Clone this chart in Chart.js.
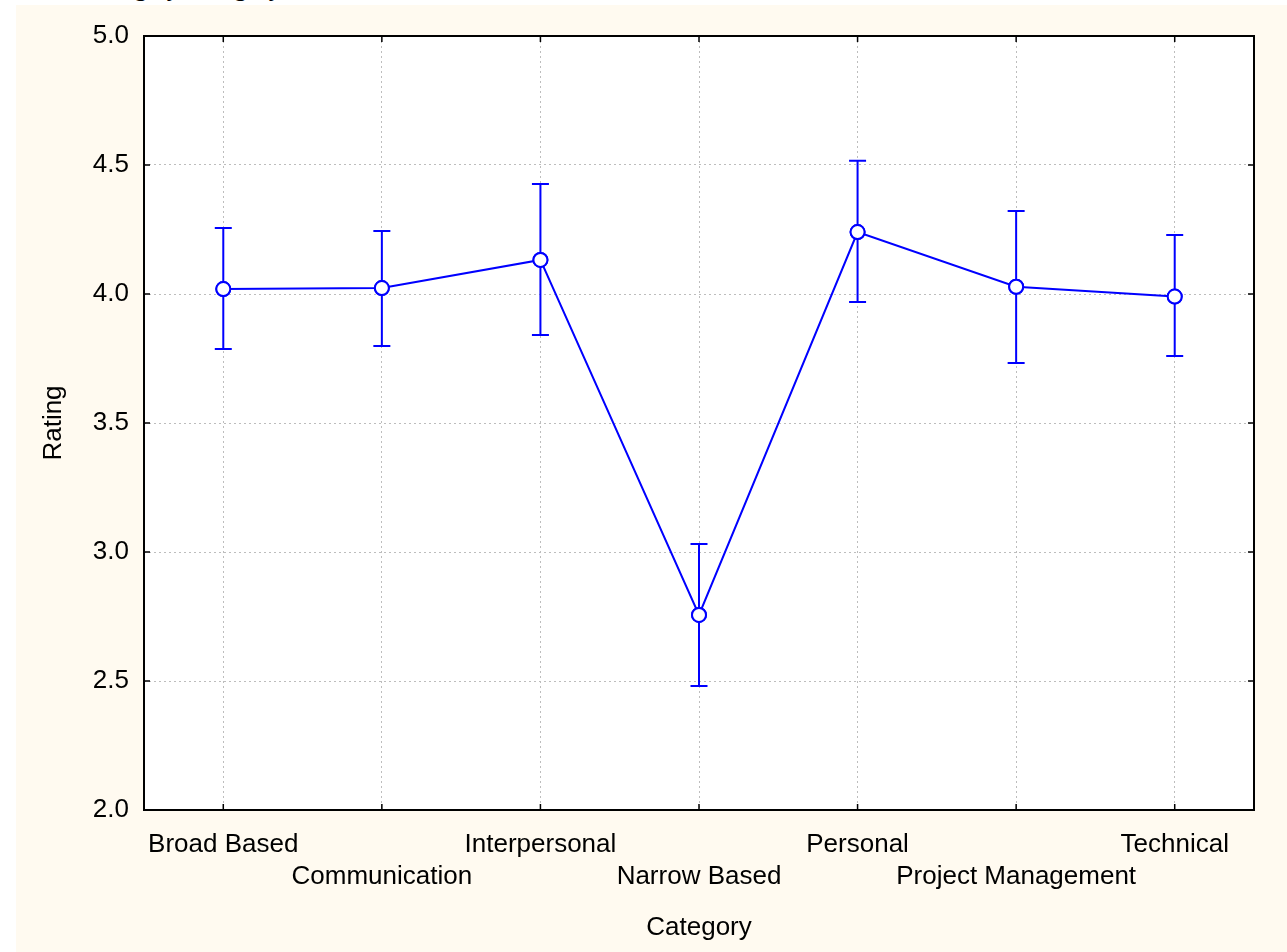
<!DOCTYPE html>
<html>
<head>
<meta charset="utf-8">
<script src="https://cdn.jsdelivr.net/npm/chart.js@4/dist/chart.umd.min.js"></script>
<style>
    body { margin: 0; background: #ffffff; width: 1287px; height: 952px; overflow: hidden; position: relative; }
    #title { position: absolute; left: 78px; top: -27px; font-family: "Liberation Serif", "DejaVu Serif", serif; font-size: 26px; color: #000; white-space: nowrap; }
    #panel { position: absolute; left: 16px; top: 5px; width: 1271px; height: 947px; background: #fffaf0; }
</style>
</head>
<body>
<div id="title">Rating by Category</div>
<div id="panel"><canvas id="chart" width="1271" height="947"></canvas></div>
<script>
// --- Data ---
const categories = ['Broad Based', 'Communication', 'Interpersonal', 'Narrow Based', 'Personal', 'Project Management', 'Technical'];
const ratingMean = [4.019, 4.023, 4.132, 2.756, 4.240, 4.028, 3.990];
const ratingUpper = [4.256, 4.244, 4.426, 3.031, 4.516, 4.322, 4.229];
const ratingLower = [3.787, 3.798, 3.841, 2.481, 3.969, 3.733, 3.760];
const yTicks = [2.0, 2.5, 3.0, 3.5, 4.0, 4.5, 5.0];

const blue = '#0000ff';
const fontFamily = '"Liberation Sans", Arial, Helvetica, sans-serif';

// white plot background
const plotBackground = {
    id: 'plotBackground',
    beforeDraw(chart) {
        const { ctx, chartArea: a } = chart;
        ctx.save();
        ctx.fillStyle = '#ffffff';
        ctx.fillRect(a.left, a.top, a.right - a.left, a.bottom - a.top);
        ctx.restore();
    }
};

// error bars with caps, drawn through the y scale
const errorBars = {
    id: 'errorBars',
    afterDatasetsDraw(chart) {
        const { ctx, scales } = chart;
        const meta = chart.getDatasetMeta(0);
        ctx.save();
        ctx.strokeStyle = blue;
        ctx.lineWidth = 2;
        meta.data.forEach((pt, i) => {
            const x = pt.x;
            const yTop = scales.y.getPixelForValue(ratingUpper[i]);
            const yBot = scales.y.getPixelForValue(ratingLower[i]);
            ctx.beginPath();
            ctx.moveTo(x, yTop);
            ctx.lineTo(x, yBot);
            ctx.moveTo(x - 8.5, yTop);
            ctx.lineTo(x + 8.5, yTop);
            ctx.moveTo(x - 8.5, yBot);
            ctx.lineTo(x + 8.5, yBot);
            ctx.stroke();
        });
        ctx.restore();
        // redraw the points on top of the bars
        meta.data.forEach(pt => pt.draw(ctx, chart.chartArea));
    }
};

// black frame with inward ticks on all four sides
const frame = {
    id: 'frame',
    afterDraw(chart) {
        const { ctx, chartArea: a, scales } = chart;
        ctx.save();
        ctx.strokeStyle = '#000000';
        ctx.lineWidth = 2;
        ctx.strokeRect(a.left, a.top, a.right - a.left, a.bottom - a.top);
        ctx.lineWidth = 1.5;
        ctx.beginPath();
        scales.y.ticks.forEach((t, i) => {
            const y = scales.y.getPixelForTick(i);
            ctx.moveTo(a.left, y); ctx.lineTo(a.left + 6, y);
            ctx.moveTo(a.right, y); ctx.lineTo(a.right - 6, y);
        });
        scales.x.ticks.forEach((t, i) => {
            const x = scales.x.getPixelForTick(i);
            ctx.moveTo(x, a.bottom); ctx.lineTo(x, a.bottom - 6);
            ctx.moveTo(x, a.top); ctx.lineTo(x, a.top + 6);
        });
        ctx.stroke();
        ctx.restore();
    }
};

new Chart(document.getElementById('chart'), {
    type: 'line',
    data: {
        labels: categories,
        datasets: [{
            label: 'Rating',
            data: ratingMean,
            borderColor: blue,
            borderWidth: 2,
            backgroundColor: '#ffffff',
            pointBackgroundColor: '#ffffff',
            pointBorderColor: blue,
            pointBorderWidth: 2,
            pointRadius: 7,
            tension: 0,
            fill: false
        }]
    },
    options: {
        responsive: false,
        animation: false,
        events: [],
        layout: { padding: { left: 0, right: 33, top: 31, bottom: 0 } },
        plugins: {
            legend: { display: false },
            tooltip: { enabled: false }
        },
        scales: {
            x: {
                type: 'category',
                offset: true,
                border: { display: false, dash: [2, 3] },
                grid: { color: '#bdbdbd', drawTicks: false, offset: false },
                ticks: {
                    color: '#000000',
                    padding: 19,
                    autoSkip: false,
                    maxRotation: 0,
                    font: { family: fontFamily, size: 26, lineHeight: 1.23 },
                    callback: function (value, index) {
                        const name = this.getLabelForValue(value);
                        return index % 2 === 1 ? ['', name] : name;
                    }
                },
                title: {
                    display: true,
                    text: 'Category',
                    color: '#000000',
                    padding: { top: 0, bottom: 9 },
                    font: { family: fontFamily, size: 26 }
                },
                afterFit: scale => { scale.height = 142; }
            },
            y: {
                min: 2,
                max: 5,
                border: { display: false, dash: [2, 3] },
                grid: { color: '#bdbdbd', drawTicks: false },
                afterBuildTicks: scale => { scale.ticks = yTicks.map(v => ({ value: v })); },
                ticks: {
                    color: '#000000',
                    padding: 15,
                    font: { family: fontFamily, size: 26 },
                    callback: v => v.toFixed(1)
                },
                title: {
                    display: true,
                    text: 'Rating',
                    color: '#000000',
                    padding: { top: 22, bottom: 0 },
                    font: { family: fontFamily, size: 26 }
                },
                afterFit: scale => { scale.width = 128; }
            }
        }
    },
    plugins: [plotBackground, errorBars, frame]
});
</script>
</body>
</html>
